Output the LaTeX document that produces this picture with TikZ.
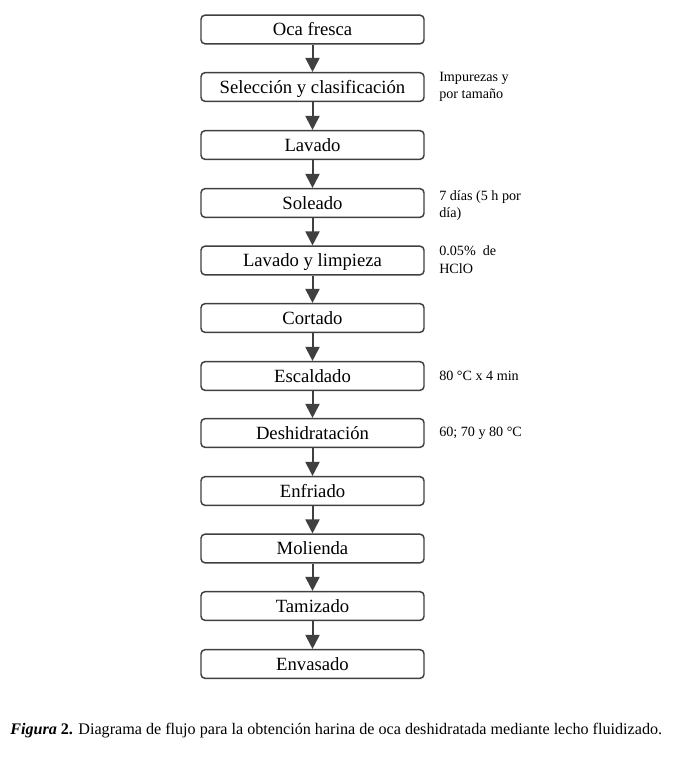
\documentclass[tikz,border=0pt]{standalone}
\usepackage{fontspec}
\setmainfont{Liberation Serif}
\usetikzlibrary{arrows.meta}
\begin{document}
\begin{tikzpicture}[x=0.75pt,y=-0.75pt,
  stepbox/.style={draw=black!75,line width=1.1pt,rounded corners=3pt,minimum width=167.25pt,minimum height=21.5pt,inner sep=0pt,text height=11pt,text depth=1.5pt,font=\fontsize{14}{16}\selectfont},
  conn/.style={draw=black!75,line width=1.5pt,-{Triangle[length=10.5pt,width=10.5pt]}},
  side/.style={anchor=west,align=left,inner sep=0pt,font=\fontsize{10.6}{13}\selectfont}]
\useasboundingbox[fill=white] (0,0) rectangle (698,773);
\foreach \n/\t/\y in {a/Oca fresca/29.5,b/Selección y clasificación/87,c/Lavado/145,d/Soleado/203,e/Lavado y limpieza/260.5,f/Cortado/318,g/Escaldado/376,h/Deshidratación/433,i/Enfriado/491,j/Molienda/548.5,k/Tamizado/606,l/Envasado/664}
  \node[stepbox] (\n) at (312.5,\y) {\t};
\foreach \p/\q in {a/b,b/c,c/d,d/e,e/f,f/g,g/h,h/i,i/j,j/k,k/l}
  \draw[conn] (\p) -- (\q);
\node[side] (s1) at (439,87) {Impurezas y\\por tamaño};
\node[side] (s2) at (439,205.5) {7 días (5 h por\\día)};
\node[side] (s3) at (439,259.5) {0.05\%\ \ de\\HClO};
\node[side] (s4) at (439,376) {80 °C x 4 min};
\node[side] (s5) at (439,433) {60; 70 y 80 °C};
\node[anchor=west,inner sep=0pt,font=\fontsize{12.1}{14}\selectfont] (cap) at (10,731) {\textbf{\textit{Figura} 2.} Diagrama de flujo para la obtención harina de oca deshidratada mediante lecho fluidizado.};
\end{tikzpicture}
\end{document}
